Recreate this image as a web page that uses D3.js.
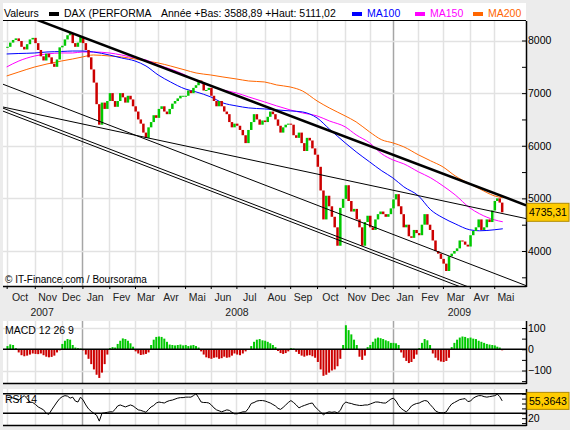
<!DOCTYPE html>
<html>
<head>
<meta charset="utf-8">
<script src="https://cdn.jsdelivr.net/npm/d3@7/dist/d3.min.js"></script>
<style>
  body { margin: 0; background: #ececec; }
  svg text { font-family: 'Liberation Sans', Arial, sans-serif; font-size: 10.5px; fill: #000; }
</style>
</head>
<body>
<script>
// trading calendar (Xetra)
const axisStart = '2007-09-26';
const axisEnd = '2009-06-09';
const dataFirst = '2007-10-01';
const dataLast = '2009-05-13';
const holidays = ['2007-12-24', '2007-12-25', '2007-12-26', '2007-12-31', '2008-01-01',
    '2008-03-21', '2008-03-24', '2008-05-01', '2008-12-24', '2008-12-25', '2008-12-26',
    '2008-12-31', '2009-01-01', '2009-04-10', '2009-04-13', '2009-05-01'];

const months = ['2007-10', '2007-11', '2007-12', '2008-01', '2008-02', '2008-03', '2008-04',
    '2008-05', '2008-06', '2008-07', '2008-08', '2008-09', '2008-10', '2008-11', '2008-12',
    '2009-01', '2009-02', '2009-03', '2009-04', '2009-05'];
const monthLabels = ['Oct', 'Nov', 'Dec', 'Jan', 'Fev', 'Mar', 'Avr', 'Mai', 'Jun', 'Jul',
    'Aou', 'Sep', 'Oct', 'Nov', 'Dec', 'Jan', 'Fev', 'Mar', 'Avr', 'Mai'];
const years = ['2007', '2008', '2009'];

// DAX closes, read about every two sessions, one list per month
const closes = [
    [7880, 7960, 8010, 8040, 7990, 7880, 7830, 7930, 8020, 8050],
    [7950, 7820, 7700, 7620, 7750, 7680, 7560, 7500, 7640, 7870],
    [7900, 8020, 8100, 8140, 7950, 7880, 7960, 8067],
    [7950, 7820, 7680, 7450, 7200, 6790, 6400, 6820, 6700, 6850],
    [7000, 6850, 6740, 6850, 7000, 6920, 6820, 6950, 6880, 6750],
    [6650, 6500, 6420, 6250, 6150, 6350, 6450, 6580, 6530],
    [6700, 6750, 6650, 6600, 6700, 6800, 6850, 6900, 6950, 6950],
    [6950, 7050, 7000, 7100, 7150, 7240, 7200, 7050, 7060, 7100],
    [6950, 6850, 6750, 6850, 6750, 6650, 6600, 6450, 6350, 6420],
    [6380, 6300, 6200, 6050, 6300, 6450, 6600, 6500, 6400, 6480],
    [6450, 6550, 6650, 6600, 6500, 6380, 6250, 6350, 6400, 6420],
    [6400, 6200, 6150, 6250, 6050, 5900, 6150, 6100, 5950, 5830],
    [5600, 5150, 4600, 5050, 4850, 4650, 4450, 4100, 4820, 4990],
    [5250, 4950, 4750, 4800, 4600, 4450, 4100, 4550, 4670],
    [4450, 4400, 4600, 4700, 4750, 4700, 4650, 4700, 4810],
    [4980, 5080, 4850, 4700, 4450, 4500, 4280, 4250, 4400, 4340],
    [4300, 4500, 4700, 4500, 4400, 4200, 4000, 3950, 3850],
    [3760, 3620, 3900, 3950, 4000, 4050, 4200, 4180, 4120, 4085],
    [4300, 4380, 4450, 4600, 4400, 4450, 4600, 4550, 4770],
    [4950, 5000, 4920, 4735.31]
];

const macd = [
    [15, 23, 20, 5, -15, -28, -33, -30, -25, -20],
    [-22, -23, -20, -28, -35, -38, -36, -30, -15, -5],
    [25, 40, 48, 45, 20, 8, 5, 3],
    [-5, -25, -45, -70, -95, -120, -135, -110, -70, -25],
    [5, 10, 8, 25, 40, 51, 48, 40, 28, 12],
    [-10, -20, -27, -25, -22, -15, 20, 45, 58],
    [60, 58, 50, 35, 22, 20, 18, 20, 22, 18],
    [20, 15, 18, 20, 15, 8, -10, -25, -38, -42],
    [-45, -40, -38, -45, -42, -35, -40, -38, -30, -20],
    [-25, -28, -20, -10, -3, 15, 35, 45, 48, 42],
    [40, 35, 28, 20, 10, -8, -18, -22, -18, -10],
    [5, 3, -12, -22, -30, -35, -30, -28, -33, -40],
    [-60, -95, -125, -120, -110, -100, -95, -80, -45, 20],
    [113, 90, 70, 45, 20, -35, -50, -30, 10],
    [20, 35, 50, 55, 52, 48, 42, 38, 30],
    [30, 28, 20, -15, -40, -55, -65, -60, -45, -25],
    [5, 30, 48, 42, 20, -20, -40, -52, -58],
    [-60, -55, -40, 10, 30, 45, 55, 60, 58, 52],
    [55, 50, 48, 40, 35, 30, 25, 22, 20],
    [18, 12, 8, -5]
];

const rsi = [
    [62, 63, 61, 59, 57, 62, 66, 60, 53, 52],
    [48, 43, 40, 37, 30, 28, 37, 45, 53, 60],
    [64, 66, 65, 61, 63, 55, 53, 63],
    [57, 47, 39, 34, 30, 26, 14, 30, 31, 32],
    [33, 33, 38, 45, 47, 45, 43, 45, 47, 45],
    [41, 37, 36, 34, 32, 38, 43, 46, 51],
    [53, 52, 51, 54, 56, 57, 59, 61, 62, 62],
    [63, 63, 63, 66, 70, 62, 53, 52, 52, 51],
    [47, 41, 37, 35, 33, 35, 37, 36, 32, 29],
    [29, 31, 33, 33, 40, 50, 52, 55, 56, 56],
    [55, 53, 51, 48, 45, 40, 38, 42, 47, 52],
    [56, 52, 47, 41, 44, 46, 48, 50, 51, 43],
    [38, 32, 27, 31, 33, 32, 33, 31, 36, 48],
    [53, 51, 50, 48, 47, 46, 46, 47, 47],
    [49, 51, 53, 53, 52, 51, 51, 55, 59],
    [61, 55, 46, 40, 36, 33, 38, 45, 48, 50],
    [51, 54, 56, 55, 48, 42, 35, 32, 31],
    [31, 33, 42, 49, 52, 55, 58, 59, 60, 54],
    [55, 61, 64, 66, 66, 64, 63, 64, 65],
    [66, 69, 64, 55.3643]
];

// moving averages, read on the 1st and mid of each month
const maDates = ['2007-10-01', '2007-10-15', '2007-11-01', '2007-11-15', '2007-12-03', '2007-12-14',
    '2008-01-02', '2008-01-15', '2008-02-01', '2008-02-15', '2008-03-03', '2008-03-14',
    '2008-04-01', '2008-04-15', '2008-05-02', '2008-05-15', '2008-06-02', '2008-06-16',
    '2008-07-01', '2008-07-15', '2008-08-01', '2008-08-15', '2008-09-01', '2008-09-15',
    '2008-10-01', '2008-10-15', '2008-11-03', '2008-11-14', '2008-12-01', '2008-12-15',
    '2009-01-02', '2009-01-15', '2009-02-02', '2009-02-16', '2009-03-02', '2009-03-16',
    '2009-04-01', '2009-04-15', '2009-05-04', '2009-05-13'];
const ma100 = [7744, 7753, 7763, 7782, 7791, 7800, 7800, 7782, 7725, 7668, 7611, 7516,
    7345, 7213, 7080, 7023, 6928, 6814, 6757, 6719, 6700, 6681, 6662, 6643,
    6529, 6320, 6055, 5884, 5694, 5523, 5390, 5219, 5048, 4783, 4631, 4517,
    4403, 4384, 4403, 4422];
const ma150 = [7497, 7611, 7706, 7744, 7763, 7763, 7782, 7782, 7763, 7725, 7668, 7630,
    7535, 7459, 7345, 7232, 7137, 7061, 7004, 6928, 6833, 6757, 6681, 6624,
    6567, 6472, 6359, 6207, 6055, 5846, 5732, 5656, 5504, 5390, 5238, 5067,
    4820, 4707, 4593, 4555];
const ma200 = [7326, 7402, 7497, 7554, 7611, 7649, 7687, 7725, 7706, 7687, 7649, 7611,
    7573, 7516, 7440, 7383, 7345, 7307, 7269, 7231, 7212, 7155, 7117, 7042,
    6852, 6719, 6567, 6453, 6263, 6112, 6055, 5979, 5827, 5713, 5599, 5428,
    5276, 5182, 5049, 5011];

// trend lines: price at the two anchor dates
const trendDates = ['2008-01-02', '2009-01-02'];
const trendMain = [8065, 5829];
const trendLines = [[6588, 4317], [6414, 5156], [6135, 3869], [6078, 3812]];

const priceTicks = [4000, 5000, 6000, 7000, 8000];
const priceMinor = [3500, 4500, 5500, 6500, 7500];
const macdTicks = [-100, 0, 100];
const macdMinor = [-150, -50, 50];
const rsiTicks = [20];
const rsiMinor = [10, 30, 40, 50, 60, 70];
const rsiBands = [30, 70];
const lastPrice = '4735,31';
const lastRsi = '55,3643';

const width = 570;
const height = 430;
const left = 3;
const right = 526;

const parse = d3.utcParse('%Y-%m-%d');
const fmt = d3.utcFormat('%Y-%m-%d');
const holidaySet = new Set(holidays);
const days = d3.utcDays(parse(axisStart), d3.utcDay.offset(parse(axisEnd), 1))
    .filter(d => d.getUTCDay() !== 0 && d.getUTCDay() !== 6 && !holidaySet.has(fmt(d)));
const indexOf = (s) => d3.bisectLeft(days, parse(s));

const x = d3.scaleLinear()
    .domain([0, days.length - 1])
    .range([left, right]);

const yPrice = d3.scaleLinear().domain([4000, 8000]).range([251, 40.5]);
const yMacd = d3.scaleLinear().domain([-100, 100]).range([370.5, 328]);
const yRsi = d3.scaleLinear().domain([30, 70]).range([413.3, 393.7]);

const panels = {
    price: [21, 286],
    macd: [321, 383],
    rsi: [389, 425]
};

// build bars
const firstIdx = indexOf(dataFirst);
const lastIdx = indexOf(dataLast);
const bars = [];
let prev = null;
months.forEach((m, mi) => {
    const start = parse(m + '-01');
    const i0 = Math.max(d3.bisectLeft(days, start), firstIdx);
    const i1 = Math.min(d3.bisectLeft(days, d3.utcMonth.offset(start, 1)), lastIdx + 1);
    const n = closes[mi].length;
    closes[mi].forEach((c, i) => {
        bars.push({
            idx: i0 + (i + 0.5) * (i1 - i0) / n - 0.5,
            open: prev === null ? c : prev,
            close: c,
            macd: macd[mi][i],
            rsi: rsi[mi][i]
        });
        prev = c;
    });
});

// month boundaries on the trading calendar
const monthStarts = months.map(m => d3.bisectLeft(days, parse(m + '-01')));
const monthEnds = months.map(m => d3.bisectLeft(days, d3.utcMonth.offset(parse(m + '-01'), 1)) - 1);

const svg = d3.select('body')
    .append('svg')
    .attr('width', width)
    .attr('height', height);

svg.append('defs').append('clipPath')
    .attr('id', 'clip-price')
    .append('rect')
    .attr('x', left)
    .attr('y', panels.price[0])
    .attr('width', right - left)
    .attr('height', panels.price[1] - panels.price[0]);

// white panels
svg.append('rect').attr('x', left).attr('y', 3).attr('width', right - left).attr('height', panels.price[1] - 3).attr('fill', '#fff');
svg.append('rect').attr('x', left).attr('y', panels.macd[0]).attr('width', right - left).attr('height', panels.macd[1] - panels.macd[0]).attr('fill', '#fff');
svg.append('rect').attr('x', left).attr('y', panels.rsi[0]).attr('width', right - left).attr('height', panels.rsi[1] - panels.rsi[0]).attr('fill', '#fff');

// grid
const grid = svg.append('g');
Object.values(panels).forEach(([y0, y1]) => {
    grid.selectAll(null)
        .data(monthStarts)
        .enter()
            .append('line')
            .attr('x1', d => Math.round(x(d)) + 0.5)
            .attr('x2', d => Math.round(x(d)) + 0.5)
            .attr('y1', y0)
            .attr('y2', y1)
            .attr('stroke', (d, i) => months[i].endsWith('-01') ? '#a6a6a6' : '#e2e2e2')
            .attr('stroke-width', 1.5);
});
grid.selectAll(null)
    .data(priceTicks)
    .enter()
        .append('line')
        .attr('x1', left)
        .attr('x2', right)
        .attr('y1', d => Math.round(yPrice(d)) + 0.5)
        .attr('y2', d => Math.round(yPrice(d)) + 0.5)
        .attr('stroke', '#e2e2e2')
        .attr('stroke-width', 1.5);
grid.selectAll(null)
    .data([-100, 100])
    .enter()
        .append('line')
        .attr('x1', left)
        .attr('x2', right)
        .attr('y1', d => Math.round(yMacd(d)) + 0.5)
        .attr('y2', d => Math.round(yMacd(d)) + 0.5)
        .attr('stroke', '#e2e2e2')
        .attr('stroke-width', 1.5);

// header
const header = svg.append('g');
header.append('text').attr('x', 4).attr('y', 17).text('Valeurs');
header.append('rect').attr('x', 49).attr('y', 12).attr('width', 10).attr('height', 4).attr('fill', '#000');
header.append('text').attr('x', 64).attr('y', 17).text('DAX (PERFORMA');
header.append('text').attr('x', 161).attr('y', 17).text('Année +Bas: 3588,89 +Haut: 5111,02');
const legend = [['MA100', '#0000ff', 352], ['MA150', '#ff00ff', 415], ['MA200', '#ff6600', 473]];
legend.forEach(([name, color, lx]) => {
    header.append('rect').attr('x', lx).attr('y', 12).attr('width', 10).attr('height', 4).attr('fill', color);
    header.append('text').attr('x', lx + 15).attr('y', 17).style('fill', color).text(name);
});
svg.append('line').attr('x1', left).attr('x2', right).attr('y1', 20.5).attr('y2', 20.5).attr('stroke', '#000');

// price
const plot = svg.append('g').attr('clip-path', 'url(#clip-price)');

const maLine = (values) => d3.line()
    .x((d, i) => x(indexOf(maDates[i])))
    .y(d => yPrice(d))
    .curve(d3.curveMonotoneX)(values);

[[ma200, '#ff6600'], [ma150, '#ff00ff'], [ma100, '#0000ff']].forEach(([values, color]) => {
    plot.append('path')
        .attr('d', maLine(values))
        .attr('fill', 'none')
        .attr('stroke', color)
        .attr('stroke-width', 1);
});

plot.selectAll('rect.candle')
    .data(bars)
    .enter()
        .append('rect')
        .attr('class', 'candle')
        .attr('x', d => x(d.idx) - 1.25)
        .attr('width', 2.5)
        .attr('y', d => yPrice(Math.max(d.open, d.close)))
        .attr('height', d => Math.max(1, Math.abs(yPrice(d.open) - yPrice(d.close))))
        .attr('fill', d => d.close >= d.open ? '#00c800' : '#cc0000');

const trendPath = ([p1, p2]) => {
    const x1 = x(indexOf(trendDates[0]));
    const x2 = x(indexOf(trendDates[1]));
    const k = (yPrice(p2) - yPrice(p1)) / (x2 - x1);
    return `M${left},${yPrice(p1) + k * (left - x1)}L${right},${yPrice(p1) + k * (right - x1)}`;
};
plot.selectAll('path.trend')
    .data(trendLines)
    .enter()
        .append('path')
        .attr('class', 'trend')
        .attr('d', trendPath)
        .attr('fill', 'none')
        .attr('stroke', '#000')
        .attr('stroke-width', 1);
plot.append('path')
    .attr('d', trendPath(trendMain))
    .attr('fill', 'none')
    .attr('stroke', '#000')
    .attr('stroke-width', 2.5);

svg.append('text').attr('x', 5).attr('y', 283).style('font-size', '10px').text('\u00a9 IT-Finance.com / Boursorama');

// axes
const styleAxis = (g) => {
    g.select('.domain').remove();
    g.selectAll('line').attr('stroke', '#000');
};
svg.append('g')
    .attr('transform', `translate(${right},0)`)
    .call(d3.axisRight(yPrice).tickValues(priceTicks).tickSizeInner(-4).tickSizeOuter(0).tickPadding(2).tickFormat(d3.format('d')))
    .call(styleAxis);
svg.append('g')
    .attr('transform', `translate(${right},0)`)
    .call(d3.axisRight(yPrice).tickValues(priceMinor).tickSizeInner(-4).tickSizeOuter(0).tickFormat(''))
    .call(styleAxis);

svg.append('g')
    .attr('transform', `translate(0,${panels.price[1]})`)
    .call(d3.axisBottom(x).tickValues(monthStarts).tickSize(3).tickSizeOuter(0).tickFormat(''))
    .call(styleAxis);

svg.append('g')
    .selectAll('text')
    .data(monthLabels)
    .enter()
        .append('text')
        .attr('x', (d, i) => (x(monthStarts[i]) + x(monthEnds[i])) / 2)
        .attr('y', 300.5)
        .attr('text-anchor', 'middle')
        .style('fill', '#222')
        .text(d => d);

svg.append('g')
    .selectAll('text')
    .data(years)
    .enter()
        .append('text')
        .attr('x', d => {
            const a = Math.max(0, d3.bisectLeft(days, parse(d + '-01-01')));
            const b = Math.min(days.length - 1, d3.bisectLeft(days, parse((+d + 1) + '-01-01')) - 1);
            return (x(a) + x(b)) / 2;
        })
        .attr('y', 315.5)
        .attr('text-anchor', 'middle')
        .style('fill', '#222')
        .text(d => d);

// frame lines for price panel
svg.append('line').attr('x1', left).attr('x2', right + 0.5).attr('y1', panels.price[1] + 0.5).attr('y2', panels.price[1] + 0.5).attr('stroke', '#000').attr('stroke-width', 1.5);
svg.append('line').attr('x1', right + 0.5).attr('x2', right + 0.5).attr('y1', panels.price[0]).attr('y2', panels.price[1] + 1).attr('stroke', '#000').attr('stroke-width', 1.5);

// price value box
const boxY = yPrice(4735.31);
svg.append('rect').attr('x', 527).attr('y', boxY - 9).attr('width', 42).attr('height', 18).attr('fill', '#ffcc00').attr('stroke', '#b08a00');
svg.append('text').attr('x', 529).attr('y', boxY + 4).text(lastPrice);

// MACD
const macdG = svg.append('g');
macdG.selectAll('rect')
    .data(bars)
    .enter()
        .append('rect')
        .attr('x', d => x(d.idx) - 1)
        .attr('width', 2)
        .attr('y', d => Math.min(yMacd(d.macd), yMacd(0)))
        .attr('height', d => Math.abs(yMacd(d.macd) - yMacd(0)))
        .attr('fill', d => d.macd >= 0 ? '#00c800' : '#cc0000');
macdG.append('line').attr('x1', left).attr('x2', right).attr('y1', yMacd(0)).attr('y2', yMacd(0)).attr('stroke', '#000').attr('stroke-width', 1.5);
svg.append('text').attr('x', 5).attr('y', 333.5).text('MACD 12 26 9');
svg.append('g')
    .attr('transform', `translate(${right},0)`)
    .call(d3.axisRight(yMacd).tickValues(macdTicks).tickSizeInner(-4).tickSizeOuter(0).tickPadding(2))
    .call(styleAxis);
svg.append('g')
    .attr('transform', `translate(${right},0)`)
    .call(d3.axisRight(yMacd).tickValues(macdMinor).tickSizeInner(-4).tickSizeOuter(0).tickFormat(''))
    .call(styleAxis);
svg.append('line').attr('x1', left).attr('x2', right + 0.5).attr('y1', panels.macd[1] + 0.5).attr('y2', panels.macd[1] + 0.5).attr('stroke', '#000').attr('stroke-width', 1.5);
svg.append('line').attr('x1', right + 0.5).attr('x2', right + 0.5).attr('y1', panels.macd[0]).attr('y2', panels.macd[1] + 1).attr('stroke', '#000').attr('stroke-width', 1.5);

// RSI
svg.selectAll(null)
    .data(rsiBands)
    .enter()
        .append('line')
        .attr('x1', left)
        .attr('x2', right)
        .attr('y1', d => yRsi(d))
        .attr('y2', d => yRsi(d))
        .attr('stroke', '#000')
        .attr('stroke-width', 1.5);
svg.append('text').attr('x', 5).attr('y', 402.5).text('RSI 14');
svg.append('path')
    .datum(bars)
    .attr('d', d3.line().x(d => x(d.idx)).y(d => yRsi(d.rsi)))
    .attr('fill', 'none')
    .attr('stroke', '#000')
    .attr('stroke-width', 1);
svg.append('g')
    .attr('transform', `translate(${right},0)`)
    .call(d3.axisRight(yRsi).tickValues(rsiTicks).tickSizeInner(-4).tickSizeOuter(0).tickPadding(2))
    .call(styleAxis);
svg.append('g')
    .attr('transform', `translate(${right},0)`)
    .call(d3.axisRight(yRsi).tickValues(rsiMinor).tickSizeInner(-4).tickSizeOuter(0).tickFormat(''))
    .call(styleAxis);
svg.append('line').attr('x1', left).attr('x2', right + 0.5).attr('y1', panels.rsi[1] + 0.5).attr('y2', panels.rsi[1] + 0.5).attr('stroke', '#000').attr('stroke-width', 1.5);
svg.append('line').attr('x1', right + 0.5).attr('x2', right + 0.5).attr('y1', panels.rsi[0]).attr('y2', panels.rsi[1] + 1).attr('stroke', '#000').attr('stroke-width', 1.5);

const rsiBoxY = yRsi(55.3643);
svg.append('rect').attr('x', 527).attr('y', rsiBoxY - 8.5).attr('width', 42).attr('height', 17).attr('fill', '#ffcc00').attr('stroke', '#b08a00');
svg.append('text').attr('x', 529).attr('y', rsiBoxY + 4).text(lastRsi);
</script>
</body>
</html>
